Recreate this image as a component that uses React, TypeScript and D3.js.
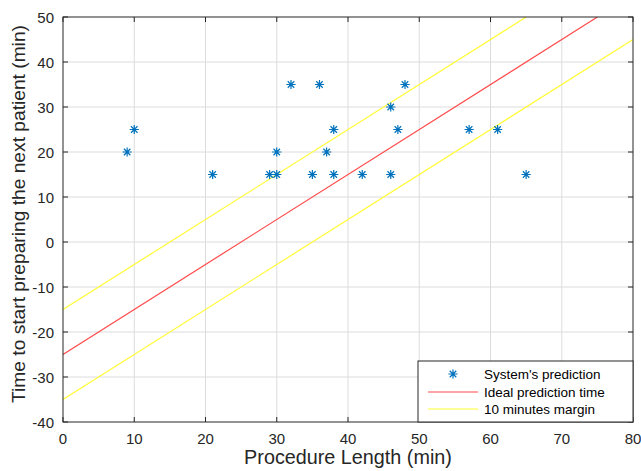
import React, { useEffect, useRef } from "react";
import * as d3 from "d3";

// measured points (procedure length, time to start preparing)
const procLength = [9, 10, 21, 29, 30, 30, 32, 35, 36, 37, 38, 38, 42, 46, 46, 47, 48, 57, 61, 65];
const prepTime = [20, 25, 15, 15, 15, 20, 35, 15, 35, 20, 25, 15, 15, 30, 15, 25, 35, 25, 25, 15];

// line endpoints
const idealLine: [number, number][] = [[0, -25], [75, 50]];
const upperMargin: [number, number][] = [[0, -15], [65, 50]];
const lowerMargin: [number, number][] = [[0, -35], [80, 45]];

const xTicks = [0, 10, 20, 30, 40, 50, 60, 70, 80];
const yTicks = [-40, -30, -20, -10, 0, 10, 20, 30, 40, 50];

const legendLabels = ["System's prediction", "Ideal prediction time", "10 minutes margin"];

const BLUE = "#0072BD";
const RED = "#ff4a4a";
const YELLOW = "#ffff33";
const AXIS = "#262626";

const App = () => {
  const svgRef = useRef<SVGSVGElement>(null);

  useEffect(() => {
    const svg = d3.select(svgRef.current);
    svg.selectAll("*").remove();

    const width = 641;
    const height = 471;
    const margin = { top: 17, right: 8, bottom: 49, left: 63 };
    const x0 = margin.left, x1 = width - margin.right;
    const y0 = height - margin.bottom, y1 = margin.top;
    const font = "'Liberation Sans', Arial, sans-serif";

    const x = d3.scaleLinear().domain([0, 80]).range([x0, x1]);
    const y = d3.scaleLinear().domain([-40, 50]).range([y0, y1]);

    svg.append("rect").attr("x", 0).attr("y", 0).attr("width", width).attr("height", height).attr("fill", "#fff");

    // grid
    const grid = svg.append("g").attr("stroke", "#dcdcdc").attr("stroke-width", 1);
    xTicks.slice(1, -1).forEach((t) => {
      grid.append("line").attr("x1", x(t)).attr("x2", x(t)).attr("y1", y0).attr("y2", y1);
    });
    yTicks.slice(1, -1).forEach((t) => {
      grid.append("line").attr("x1", x0).attr("x2", x1).attr("y1", y(t)).attr("y2", y(t));
    });

    svg.append("clipPath").attr("id", "plotclip")
      .append("rect").attr("x", x0).attr("y", y1).attr("width", x1 - x0).attr("height", y0 - y1);

    const line = d3.line<[number, number]>().x((d) => x(d[0])).y((d) => y(d[1]));
    const lines = svg.append("g").attr("clip-path", "url(#plotclip)").attr("fill", "none").attr("stroke-width", 1.2);
    lines.append("path").attr("d", line(upperMargin)).attr("stroke", YELLOW);
    lines.append("path").attr("d", line(lowerMargin)).attr("stroke", YELLOW);
    lines.append("path").attr("d", line(idealLine)).attr("stroke", RED);

    // asterisk markers
    const star = (cx: number, cy: number, r: number) => {
      const k = r * 0.7071;
      return `M${cx - r},${cy}L${cx + r},${cy}M${cx},${cy - r}L${cx},${cy + r}` +
        `M${cx - k},${cy - k}L${cx + k},${cy + k}M${cx - k},${cy + k}L${cx + k},${cy - k}`;
    };
    svg.append("g")
      .selectAll("path")
      .data(procLength.map((d, i) => [d, prepTime[i]]))
      .join("path")
      .attr("d", (d) => star(x(d[0]), y(d[1]), 4.6))
      .attr("stroke", BLUE)
      .attr("stroke-width", 1.2)
      .attr("fill", "none");

    // axes box with inward ticks
    const ax = svg.append("g").attr("stroke", AXIS).attr("stroke-width", 1);
    ax.append("rect").attr("x", x0).attr("y", y1).attr("width", x1 - x0).attr("height", y0 - y1).attr("fill", "none");
    xTicks.forEach((t) => {
      ax.append("line").attr("x1", x(t)).attr("x2", x(t)).attr("y1", y0).attr("y2", y0 - 5);
      ax.append("line").attr("x1", x(t)).attr("x2", x(t)).attr("y1", y1).attr("y2", y1 + 5);
    });
    yTicks.forEach((t) => {
      ax.append("line").attr("x1", x0).attr("x2", x0 + 5).attr("y1", y(t)).attr("y2", y(t));
      ax.append("line").attr("x1", x1).attr("x2", x1 - 5).attr("y1", y(t)).attr("y2", y(t));
    });

    svg.append("g").selectAll("text").data(xTicks).join("text")
      .attr("x", (d) => x(d)).attr("y", y0 + 22)
      .attr("text-anchor", "middle")
      .style("font-family", font).style("font-size", "15px").attr("fill", AXIS)
      .text((d) => d);

    svg.append("g").selectAll("text").data(yTicks).join("text")
      .attr("x", x0 - 9).attr("y", (d) => y(d) + 5.5)
      .attr("text-anchor", "end")
      .style("font-family", font).style("font-size", "15px").attr("fill", AXIS)
      .text((d) => d);

    svg.append("text")
      .attr("x", 348).attr("y", 464)
      .attr("text-anchor", "middle")
      .style("font-family", font).style("font-size", "19.8px").attr("fill", AXIS)
      .text("Procedure Length (min)");

    svg.append("text")
      .attr("transform", `translate(24.5,214) rotate(-90)`)
      .attr("text-anchor", "middle")
      .style("font-family", font).style("font-size", "19.2px").attr("fill", AXIS)
      .text("Time to start preparing the next patient (min)");

    // legend
    const lg = svg.append("g").attr("transform", `translate(${x1 - 215},${y0 - 61})`);
    lg.append("rect").attr("width", 215).attr("height", 61).attr("fill", "#fff").attr("stroke", AXIS).attr("stroke-width", 1);
    const rowY = [13, 31, 48];
    lg.append("path").attr("d", star(35, rowY[0], 4.6)).attr("stroke", BLUE).attr("stroke-width", 1.2);
    lg.append("line").attr("x1", 10).attr("x2", 60).attr("y1", rowY[1]).attr("y2", rowY[1]).attr("stroke", RED).attr("stroke-width", 1.2);
    lg.append("line").attr("x1", 10).attr("x2", 60).attr("y1", rowY[2]).attr("y2", rowY[2]).attr("stroke", YELLOW).attr("stroke-width", 1.2);
    lg.selectAll("text").data(legendLabels).join("text")
      .attr("x", 66).attr("y", (_, i) => rowY[i] + 5)
      .style("font-family", font).style("font-size", "13.5px").attr("fill", "#000")
      .text((d) => d);
  }, []);

  return (
    <div style={{ position: "fixed", left: 0, top: 0, width: 641, height: 471 }}>
      <svg ref={svgRef} width={641} height={471} style={{ display: "block" }}></svg>
    </div>
  );
};

export default App;
